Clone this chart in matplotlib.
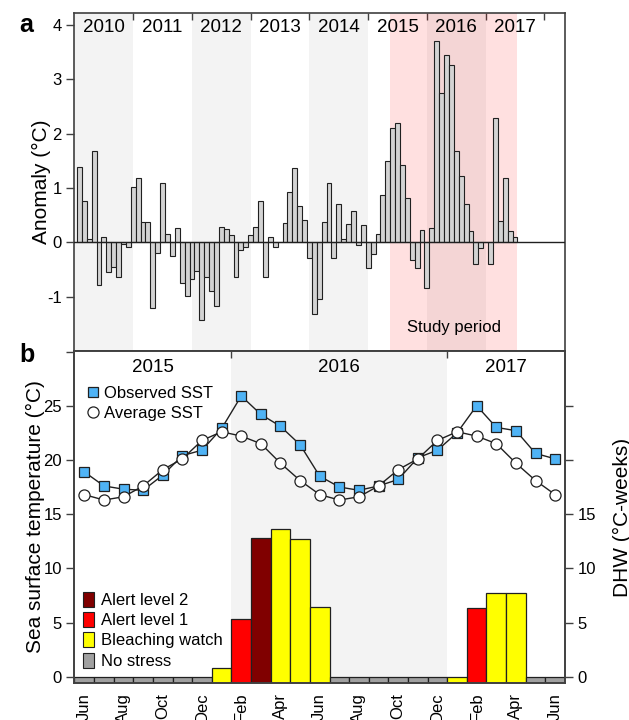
import numpy as np
import matplotlib.pyplot as plt
from matplotlib.patches import Patch
from matplotlib.lines import Line2D

plt.rcParams['font.family'] = ['Liberation Sans', 'DejaVu Sans']
plt.rcParams['font.size'] = 12
plt.rcParams['axes.unicode_minus'] = False

# DATA

# panel a: monthly SST anomaly, Jan 2010 .. Jun 2017
anomaly = [
    1.39, 0.76, 0.07, 1.69, -0.79, 0.10, -0.55, -0.46, -0.63, -0.03, -0.09, 1.02,   # 2010
    1.18, 0.37, 0.37, -1.20, -0.19, 1.10, 0.15, -0.26, 0.27, -0.74, -0.99, -0.67,   # 2011
    -0.52, -1.43, -0.63, -0.90, -1.18, 0.29, 0.25, 0.13, -0.63, -0.14, -0.09, 0.13, # 2012
    0.29, 0.76, -0.63, 0.09, -0.09, 0.00, 0.35, 0.93, 1.37, 0.66, 0.41, -0.28,      # 2013
    -1.32, -1.04, 0.37, 1.10, -0.29, 0.70, 0.06, 0.34, 0.58, -0.05, 0.31, -0.47,    # 2014
    -0.21, 0.16, 0.87, 1.50, 2.11, 2.19, 1.42, 0.81, -0.33, -0.48, 0.23, -0.84,     # 2015
    0.26, 3.71, 2.75, 3.44, 3.27, 1.69, 1.22, 0.71, 0.20, -0.40, -0.10, 0.00,       # 2016
    -0.40, 2.29, 0.40, 1.19, 0.20, 0.09,                                            # 2017
]
years_a = ["2010", "2011", "2012", "2013", "2014", "2015", "2016", "2017"]

# panel b: Jun 2015 .. Jun 2017
month_labels = ["Jun", "Aug", "Oct", "Dec", "Feb", "Apr", "Jun",
                "Aug", "Oct", "Dec", "Feb", "Apr", "Jun"]
observed_sst = [18.9, 17.6, 17.3, 17.2, 18.6, 20.4, 20.9, 22.9, 25.9, 24.2, 23.1, 21.4, 18.5,
                17.5, 17.2, 17.6, 18.2, 20.2, 20.9, 22.5, 25.0, 23.0, 22.7, 20.6, 20.1]
average_sst = [16.8, 16.3, 16.6, 17.6, 19.1, 20.1, 21.8, 22.6, 22.2, 21.5, 19.7, 18.1, 16.8,
               16.3, 16.6, 17.6, 19.1, 20.1, 21.8, 22.6, 22.2, 21.5, 19.7, 18.1, 16.8]
dhw = [0, 0, 0, 0, 0, 0, 0, 0.77, 5.37, 12.84, 13.6, 12.7, 6.45,
       0, 0, 0, 0, 0, 0, 0, 6.3, 7.68, 7.68, 0, 0]
stress = ["none", "none", "none", "none", "none", "none", "none",
          "watch", "alert1", "alert2", "watch", "watch", "watch",
          "none", "none", "none", "none", "none", "none",
          "watch", "alert1", "watch", "watch", "none", "none"]
years_b = ["2015", "2016", "2017"]

stress_colors = {"alert2": "#800000", "alert1": "#ff0000", "watch": "#ffff00", "none": "#a0a0a0"}
stress_names = {"alert2": "Alert level 2", "alert1": "Alert level 1",
                "watch": "Bleaching watch", "none": "No stress"}

spine_col = "#404040"
shade = "#f3f3f3"
label_fs = 15
year_fs = 13.5

fig = plt.figure(figsize=(6.29, 7.2), dpi=100)
ax_a = fig.add_axes([0.1184, 0.5125, 0.7798, 0.4694])
ax_b = fig.add_axes([0.1184, 0.0514, 0.7798, 0.4611])

# PANEL A

for k in range(0, 8, 2):
    ax_a.axvspan(12 * k, 12 * k + 12, color=shade, lw=0, zorder=0)
ax_a.axvspan(64.5, 90.5, color="red", alpha=0.12, lw=0, zorder=1)

xa = np.arange(len(anomaly)) + 1.0
ax_a.bar(xa, anomaly, width=1.0, color="#d3d3d3", edgecolor="#202020", lw=0.8, zorder=3)
ax_a.axhline(0, color="#202020", lw=1.0, zorder=4)

ax_a.set_xlim(0, 100.2)
ax_a.set_ylim(-2.0, 4.22)
ax_a.set_yticks([-1, 0, 1, 2, 3, 4])
ax_a.set_ylabel("Anomaly (°C)", fontsize=label_fs, labelpad=-3)
ax_a.set_xticks([])

ax_t = ax_a.secondary_xaxis("top")
ax_t.set_xticks([12 * k for k in range(1, 9)])
ax_t.set_xticklabels([])
ax_t.tick_params(direction="in", length=5, color=spine_col, width=1)
for k, y in enumerate(years_a):
    ax_a.text(12 * k + 6, 3.95, y, ha="center", va="center", fontsize=year_fs)
ax_a.text(77.5, -1.57, "Study period", ha="center", va="center", fontsize=12)

for s in ax_a.spines.values():
    s.set_color(spine_col)
    s.set_linewidth(1.2)
ax_t.spines["top"].set_visible(False)
ax_a.tick_params(axis="y", color=spine_col, width=1, length=6, pad=3)

# PANEL B

ax_b.axvspan(8, 19, color=shade, lw=0, zorder=0)

xb = np.arange(len(dhw)) + 0.5
base = -0.58
ax_b.bar(xb, np.array(dhw) - base, bottom=base, width=1.0,
         color=[stress_colors[s] for s in stress], edgecolor="#202020", lw=0.9, zorder=2)

ax_b.plot(xb, observed_sst, "-s", color="#202020", lw=1.0, ms=7.5,
          mfc="#4fb3f5", mec="#202020", mew=0.9, zorder=4)
ax_b.plot(xb, average_sst, "-o", color="#202020", lw=1.0, ms=8,
          mfc="white", mec="#202020", mew=0.9, zorder=5)

ax_b.set_xlim(0, 25)
ax_b.set_ylim(base, 30.05)
ax_b.set_yticks([0, 5, 10, 15, 20, 25, 30])
ax_b.set_yticklabels(["0", "5", "10", "15", "20", "25", ""])
ax_b.set_ylabel("Sea surface temperature (°C)", fontsize=label_fs, labelpad=-1)
ax_b.set_xticks(np.arange(0, 25, 2) + 0.5)
ax_b.set_xticklabels(month_labels, rotation=90)
ax_b.tick_params(axis="x", length=0, pad=7)
ax_b.tick_params(axis="y", color=spine_col, width=1, length=6, pad=3)

ax_r = ax_b.twinx()
ax_r.set_ylim(base, 30.05)
ax_r.set_yticks([0, 5, 10, 15, 20, 25])
ax_r.set_yticklabels(["0", "5", "10", "15", "", ""])
ax_r.set_ylabel("DHW (°C-weeks)", fontsize=label_fs, labelpad=12)
ax_r.tick_params(axis="y", color=spine_col, width=1, length=6, pad=3)

ax_bt = ax_b.secondary_xaxis("top")
ax_bt.set_xticks([8, 19])
ax_bt.set_xticklabels([])
ax_bt.tick_params(direction="in", length=5, color=spine_col, width=1)
ax_bt.spines["top"].set_visible(False)

for s in list(ax_b.spines.values()) + list(ax_r.spines.values()):
    s.set_color(spine_col)
    s.set_linewidth(1.2)

for x, y in zip([4, 13.5, 22], years_b):
    ax_b.text(x, 28.55, y, ha="center", va="center", fontsize=year_fs)

sst_handles = [
    Line2D([], [], ls="none", marker="s", ms=7.5, mfc="#4fb3f5", mec="#202020", mew=0.9),
    Line2D([], [], ls="none", marker="o", ms=8, mfc="white", mec="#202020", mew=0.9),
]
leg1 = ax_b.legend(sst_handles, ["Observed SST", "Average SST"], loc="upper left",
                   bbox_to_anchor=(0.0, 0.93), frameon=False, handlelength=0.8,
                   handletextpad=0.3, labelspacing=0.3, borderaxespad=0.3)
ax_b.add_artist(leg1)

keys = ["alert2", "alert1", "watch", "none"]
stress_handles = [Patch(facecolor=stress_colors[k], edgecolor="#202020", lw=0.8) for k in keys]
ax_b.legend(stress_handles, [stress_names[k] for k in keys], loc="lower left",
            bbox_to_anchor=(-0.012, 0.0), frameon=False, handlelength=0.7, handleheight=1.0,
            handletextpad=0.4, labelspacing=0.25, borderaxespad=0.45)

# panel letters
fig.text(0.03, 0.965, "a", fontsize=18, fontweight="bold", ha="left", va="center")
fig.text(0.03, 0.507, "b", fontsize=18, fontweight="bold", ha="left", va="center")

fig.savefig("out.png", dpi=100)
